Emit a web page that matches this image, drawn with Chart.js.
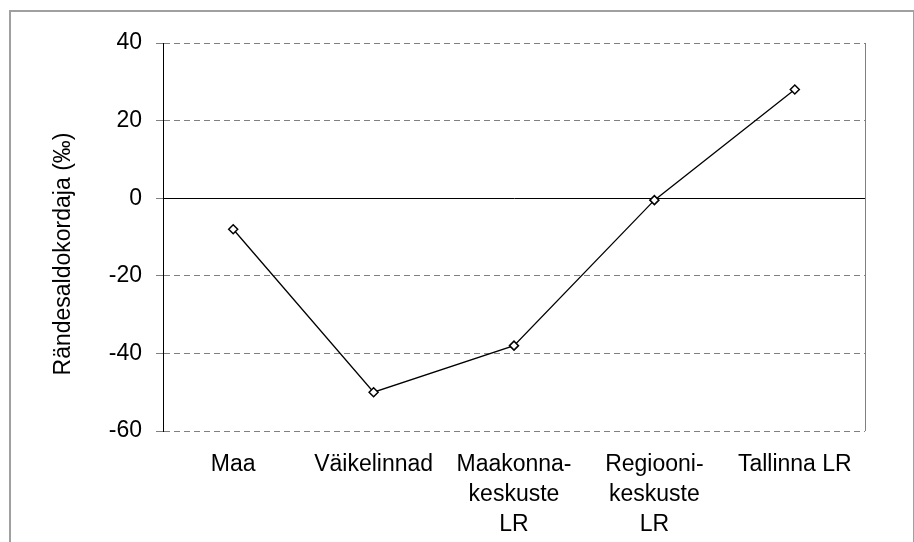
<!DOCTYPE html>
<html lang="et">
<head>
<meta charset="UTF-8">
<title>Rändesaldokordaja</title>
<script src="https://cdn.jsdelivr.net/npm/chart.js"></script>
<style>
  html, body { margin: 0; padding: 0; background: #fff; }
</style>
</head>
<body>
<canvas id="migChart" width="914" height="542"></canvas>
<script>
const categories = ['Maa', 'Väikelinnad', ['Maakonna-', 'keskuste', 'LR'], ['Regiooni-', 'keskuste', 'LR'], 'Tallinna LR'];
const migrationRate = [-8, -50, -38, -0.5, 28];
const yTicks = [-60, -40, -20, 0, 20, 40];
const yTitle = 'Rändesaldokordaja (‰)';

const FONT = '"Liberation Sans", Arial, sans-serif';
const FONT_SIZE = 23;

// outer frame, right edge of the plot box and the rotated y title
const framePlugin = {
    id: 'frame',
    beforeDraw(chart) {
        const ctx = chart.ctx;
        ctx.save();
        ctx.fillStyle = '#fff';
        ctx.fillRect(0, 0, chart.width, chart.height);
        ctx.strokeStyle = '#a0a0a0';
        ctx.lineWidth = 2;
        ctx.strokeRect(10, 11, 904, 540);
        ctx.restore();
    },
    afterDraw(chart) {
        const { ctx, chartArea: a } = chart;
        ctx.save();
        ctx.strokeStyle = '#808080';
        ctx.lineWidth = 1;
        ctx.beginPath();
        ctx.moveTo(Math.round(a.right) + 0.5, a.top);
        ctx.lineTo(Math.round(a.right) + 0.5, a.bottom);
        ctx.stroke();
        ctx.translate(64, 254);
        ctx.rotate(-Math.PI / 2);
        ctx.font = FONT_SIZE + 'px ' + FONT;
        ctx.textAlign = 'center';
        ctx.textBaseline = 'middle';
        ctx.fillStyle = '#000';
        ctx.fillText(yTitle, 0, 0);
        ctx.restore();
    }
};

const ctx = document.getElementById('migChart').getContext('2d');
new Chart(ctx, {
    type: 'line',
    data: {
        labels: categories,
        datasets: [{
            data: migrationRate,
            borderColor: '#000',
            borderWidth: 1.3,
            tension: 0,
            pointStyle: 'rectRot',
            pointRadius: 4.5,
            pointBackgroundColor: '#fff',
            pointBorderColor: '#000',
            pointBorderWidth: 1.5
        }]
    },
    options: {
        responsive: false,
        animation: false,
        devicePixelRatio: 1,
        layout: { padding: { top: 43, right: 49, left: 0, bottom: 0 } },
        plugins: { legend: { display: false }, tooltip: { enabled: false } },
        scales: {
            x: {
                offset: true,
                grid: { display: false, drawTicks: false },
                border: { display: false },
                ticks: {
                    color: '#000',
                    font: { family: FONT, size: FONT_SIZE, lineHeight: '30px' },
                    padding: 19,
                    maxRotation: 0,
                    autoSkip: false
                },
                afterFit(scale) { scale.height = 111; }
            },
            y: {
                min: yTicks[0],
                max: yTicks[yTicks.length - 1],
                afterBuildTicks(scale) { scale.ticks = yTicks.map(v => ({ value: v })); },
                grid: {
                    color: c => (c.tick && c.tick.value === 0 ? '#000' : '#808080'),
                    tickColor: '#808080',
                    tickLength: 7,
                    lineWidth: 1
                },
                border: {
                    color: '#000',
                    width: 1,
                    dash: c => (c.tick && c.tick.value === 0 ? [] : [6, 4])
                },
                ticks: {
                    color: '#000',
                    font: { family: FONT, size: FONT_SIZE },
                    padding: 14
                },
                afterFit(scale) { scale.width = 163; }
            }
        }
    },
    plugins: [framePlugin]
});
</script>
</body>
</html>
